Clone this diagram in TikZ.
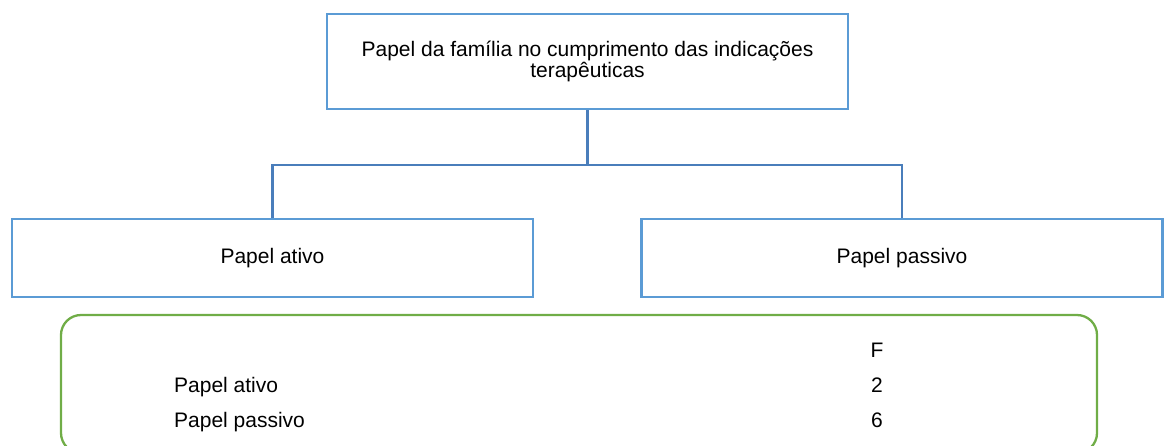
\documentclass[tikz,border=0pt]{standalone}
\usepackage{fontspec}
\setmainfont{Liberation Sans}
\definecolor{boxblue}{HTML}{5B9BD5}
\definecolor{linkblue}{HTML}{4A7EBB}
\definecolor{tblgreen}{HTML}{70AD47}
\begin{document}
\begin{tikzpicture}[x=1pt,y=-1pt,
  every node/.style={font=\fontsize{21}{21}\selectfont, inner sep=0pt, text=black},
  bluebox/.style={draw=boxblue, line width=2.3pt, minimum width=521pt, minimum height=78pt},
  conn/.style={draw=linkblue, line width=2.3pt},
  tablebox/.style={draw=tblgreen, line width=2.3pt, rounded corners=20pt, minimum width=1036pt, minimum height=138pt},
  cell/.style={anchor=base west},
  num/.style={anchor=base}]
\useasboundingbox (0,0) rectangle (1167,445);
\node[bluebox, minimum height=95pt, align=center] (top) at (587.5,61.5) {Papel da família no cumprimento das indicações\\terapêuticas};
\node[bluebox] (left) at (272.5,258) {Papel ativo};
\node[bluebox] (right) at (902,258) {Papel passivo};
\draw[conn] (top.south) -- ++(0,55) coordinate (split) -| (left.north);
\draw[conn] (split) -| (right.north);
\node[tablebox] (tbl) at (579,384) {};
\node[num] (hF) at (877,357) {F};
\node[cell] (r1) at (174,392) {Papel ativo};
\node[num] (v1) at (877,392) {2};
\node[cell] (r2) at (174,427) {Papel passivo};
\node[num] (v2) at (877,427) {6};
\end{tikzpicture}
\end{document}
